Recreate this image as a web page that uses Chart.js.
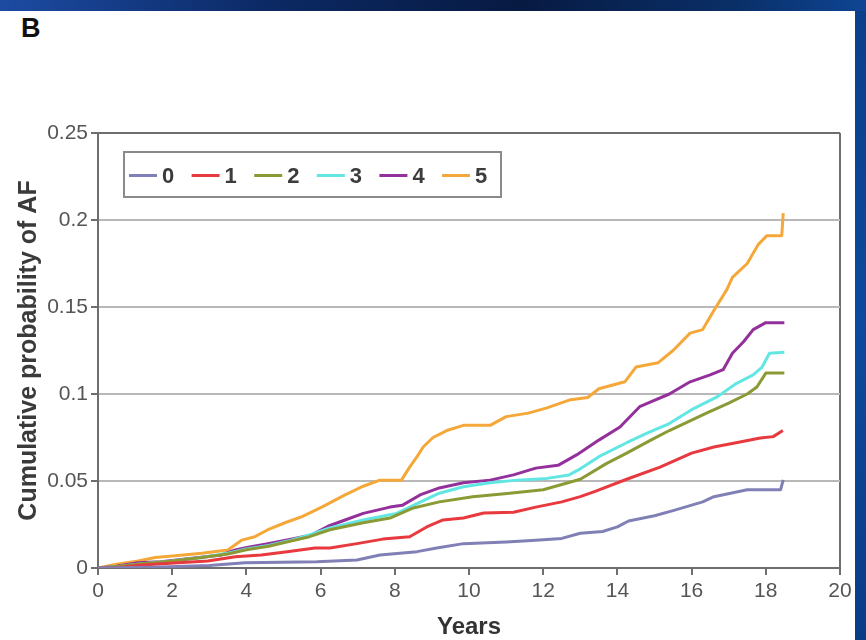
<!DOCTYPE html>
<html>
<head>
<meta charset="utf-8">
<script src="https://cdn.jsdelivr.net/npm/chart.js@4.4.1/dist/chart.umd.min.js"></script>
<style>
  html, body { margin: 0; padding: 0; }
  body { width: 866px; height: 640px; overflow: hidden; position: relative;
         background: linear-gradient(90deg, #1d4ba3 0%, #0c2a66 30%, #071a42 60%, #0a2f68 85%, #0e4593 100%); }
  #panel { position: absolute; left: 0; top: 11px; width: 855px; height: 629px; background: #fff; }
  #side { position: absolute; left: 855px; top: 11px; width: 11px; height: 629px;
          background: linear-gradient(180deg, #0b3f8a 0%, #0d4a9c 50%, #0a3c86 100%); }
  #letter { position: absolute; left: 21px; top: 13px; font: bold 27px "Liberation Sans", Arial, sans-serif; color: #111; }
  canvas { position: absolute; left: 0; top: 0; }
</style>
</head>
<body>
<div id="panel"></div>
<div id="side"></div>
<div id="letter">B</div>
<canvas id="afChart" width="866" height="640"></canvas>
<script>
// Число баллов (категории) и цвета линий
const scores = ['0', '1', '2', '3', '4', '5'];
const colors = ['#8080b6', '#e8393e', '#8c9a36', '#62e6e4', '#93309c', '#f5a83a'];

// Годы и кумулятивная вероятность ФП для каждой группы
const years0 = [0, 1.5, 3.0, 3.96, 5.9, 6.98, 7.6, 8.6, 9.13, 9.85, 11.0, 11.8, 12.5, 13.0, 13.6, 14.0, 14.3, 15.0, 15.5, 16.3, 16.6, 17.5, 18.4, 18.47];
const prob0  = [0, 0.0005, 0.0015, 0.003, 0.0036, 0.0046, 0.0075, 0.0094, 0.0115, 0.014, 0.015, 0.016, 0.017, 0.02, 0.021, 0.0236, 0.027, 0.03, 0.033, 0.038, 0.041, 0.045, 0.045, 0.0506];

const years1 = [0, 0.6, 1.2, 2.16, 2.96, 3.7, 4.4, 5.1, 5.85, 6.25, 6.98, 7.68, 8.4, 8.86, 9.3, 9.85, 10.4, 11.2, 11.8, 12.5, 13.0, 13.4, 14.25, 15.15, 16.0, 16.6, 17.2, 17.85, 18.2, 18.46];
const prob1  = [0, 0.0005, 0.0017, 0.003, 0.004, 0.0065, 0.0075, 0.0094, 0.0115, 0.0115, 0.014, 0.0166, 0.018, 0.0236, 0.0276, 0.0287, 0.0316, 0.032, 0.035, 0.038, 0.041, 0.044, 0.051, 0.058, 0.066, 0.0695, 0.072, 0.0747, 0.0755, 0.079];

const years2 = [0, 0.6, 1.2, 2.0, 2.8, 3.5, 4.0, 4.6, 5.2, 5.7, 6.25, 7.15, 7.87, 8.5, 9.2, 10.1, 11.1, 12.0, 12.5, 13.0, 13.7, 14.25, 14.9, 15.4, 16.0, 16.4, 17.0, 17.5, 17.76, 18.0, 18.5];
const prob2  = [0, 0.001, 0.0025, 0.004, 0.006, 0.008, 0.0105, 0.0125, 0.0155, 0.018, 0.022, 0.026, 0.0287, 0.0345, 0.038, 0.041, 0.043, 0.045, 0.048, 0.051, 0.06, 0.066, 0.0735, 0.079, 0.085, 0.089, 0.0948, 0.1, 0.104, 0.112, 0.112];

const years3 = [0, 0.6, 1.2, 2.0, 2.8, 3.5, 4.0, 4.6, 5.2, 5.7, 6.25, 7.15, 8.05, 8.6, 9.2, 9.85, 10.57, 11.3, 12.1, 12.7, 13.0, 13.5, 14.25, 14.8, 15.4, 16.0, 16.7, 17.2, 17.66, 17.9, 18.1, 18.5];
const prob3  = [0, 0.001, 0.0025, 0.004, 0.006, 0.0085, 0.011, 0.013, 0.016, 0.019, 0.023, 0.0276, 0.0314, 0.037, 0.043, 0.0467, 0.049, 0.0505, 0.0515, 0.0535, 0.057, 0.064, 0.072, 0.0775, 0.083, 0.091, 0.0985, 0.106, 0.111, 0.1155, 0.1234, 0.124];

const years4 = [0, 0.5, 1.08, 1.7, 2.6, 3.33, 3.7, 4.05, 4.58, 5.3, 5.76, 6.2, 6.66, 7.15, 7.87, 8.2, 8.68, 9.2, 9.85, 10.57, 11.2, 11.8, 12.4, 12.9, 13.5, 14.07, 14.6, 14.9, 15.4, 15.96, 16.5, 16.85, 17.1, 17.4, 17.66, 18.0, 18.5];
const prob4  = [0, 0.001, 0.003, 0.0036, 0.0057, 0.0075, 0.0104, 0.012, 0.014, 0.017, 0.019, 0.024, 0.0276, 0.0314, 0.035, 0.036, 0.042, 0.046, 0.049, 0.0505, 0.0535, 0.0574, 0.059, 0.065, 0.0735, 0.081, 0.0927, 0.0955, 0.1, 0.107, 0.111, 0.114, 0.1234, 0.13, 0.137, 0.141, 0.141];

const years5 = [0, 0.46, 1.08, 1.54, 2.08, 2.8, 3.5, 3.87, 4.23, 4.58, 5.04, 5.5, 6.03, 6.66, 7.15, 7.6, 8.18, 8.4, 8.6, 8.77, 9.03, 9.4, 9.85, 10.57, 11.0, 11.6, 12.1, 12.7, 13.2, 13.5, 14.2, 14.5, 15.1, 15.5, 15.96, 16.3, 16.6, 16.95, 17.1, 17.5, 17.8, 18.03, 18.43, 18.47];
const prob5  = [0, 0.002, 0.004, 0.006, 0.007, 0.0085, 0.0104, 0.016, 0.018, 0.022, 0.026, 0.0295, 0.035, 0.042, 0.047, 0.0505, 0.0505, 0.058, 0.064, 0.0697, 0.075, 0.079, 0.082, 0.082, 0.087, 0.089, 0.092, 0.0965, 0.098, 0.103, 0.107, 0.1155, 0.118, 0.125, 0.135, 0.137, 0.148, 0.16, 0.167, 0.175, 0.186, 0.191, 0.191, 0.204];

// Подписи делений осей
const xTicks = [0, 2, 4, 6, 8, 10, 12, 14, 16, 18, 20];
const yTicks = [0, 0.05, 0.1, 0.15, 0.2, 0.25];

const allYears = [years0, years1, years2, years3, years4, years5];
const allProb = [prob0, prob1, prob2, prob3, prob4, prob5];

const AXIS = '#6e6e6e';
const FONT = '"Liberation Sans", Arial, sans-serif';

// Легенда внутри области графика
const insideLegend = {
    id: 'insideLegend',
    afterDraw(chart) {
        const ctx = chart.ctx;
        const area = chart.chartArea;
        const x0 = area.left + 26;
        const y0 = area.top + 19;
        const w = 377, h = 45;
        ctx.save();
        ctx.fillStyle = '#fff';
        ctx.fillRect(x0, y0, w, h);
        ctx.strokeStyle = '#8a8a8a';
        ctx.lineWidth = 2;
        ctx.strokeRect(x0, y0, w, h);
        ctx.font = 'bold 22px ' + FONT;
        ctx.textBaseline = 'middle';
        const cy = y0 + h / 2 + 1;
        let x = x0 + 5;
        chart.data.datasets.forEach(ds => {
            ctx.strokeStyle = ds.borderColor;
            ctx.lineWidth = 3;
            ctx.beginPath();
            ctx.moveTo(x, cy);
            ctx.lineTo(x + 28, cy);
            ctx.stroke();
            ctx.fillStyle = '#3c3c3c';
            ctx.fillText(ds.label, x + 33, cy + 1);
            x += 62.6;
        });
        ctx.restore();
    }
};

const datasets = scores.map((s, i) => ({
    label: s,
    data: allYears[i].map((t, k) => ({ x: t, y: allProb[i][k] })),
    borderColor: colors[i],
    borderWidth: 3,
    pointRadius: 0,
    tension: 0,
    borderJoinStyle: 'round',
    fill: false
}));

new Chart(document.getElementById('afChart'), {
    type: 'line',
    data: { datasets: datasets },
    plugins: [insideLegend],
    options: {
        responsive: false,
        animation: false,
        layout: { padding: { top: 133, right: 26, left: 0, bottom: 0 } },
        plugins: {
            legend: { display: false },
            tooltip: { enabled: false }
        },
        scales: {
            x: {
                type: 'linear',
                min: 0,
                max: 20,
                afterFit: scale => { scale.height = 72; },
                afterBuildTicks: scale => { scale.ticks = xTicks.map(v => ({ value: v })); },
                ticks: { color: '#555', font: { family: FONT, size: 21 }, padding: 4 },
                grid: {
                    color: c => (c.tick && c.tick.value === 20 ? AXIS : 'rgba(0,0,0,0)'),
                    tickColor: AXIS,
                    lineWidth: 2,
                    tickLength: 7
                },
                border: { color: AXIS, width: 2 },
                title: {
                    display: true,
                    text: 'Years',
                    color: '#333',
                    font: { family: FONT, size: 24, weight: 'bold', lineHeight: 1 },
                    padding: { top: 0, bottom: 1 }
                }
            },
            y: {
                min: 0,
                max: 0.25,
                afterFit: scale => { scale.width = 98; },
                afterBuildTicks: scale => { scale.ticks = yTicks.map(v => ({ value: v })); },
                ticks: {
                    color: '#555',
                    font: { family: FONT, size: 21 },
                    padding: 3,
                    callback: v => String(Math.round(v * 100) / 100)
                },
                grid: {
                    color: c => (c.tick && (c.tick.value === 0.25 || c.tick.value === 0) ? AXIS : '#b8b8b8'),
                    tickColor: AXIS,
                    lineWidth: 2,
                    tickLength: 7
                },
                border: { color: AXIS, width: 2 },
                title: {
                    display: true,
                    text: 'Cumulative probability of AF',
                    color: '#3a3a3a',
                    font: { family: FONT, size: 25, weight: 'bold' },
                    padding: { top: 14, bottom: 0 }
                }
            }
        }
    }
});
</script>
</body>
</html>
